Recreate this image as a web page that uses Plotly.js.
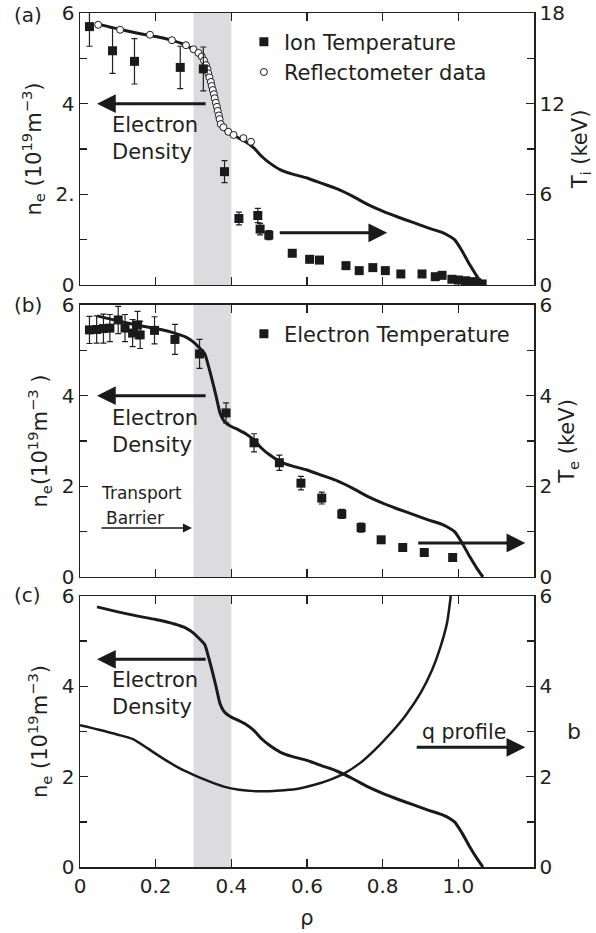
<!DOCTYPE html>
<html>
<head>
<meta charset="utf-8">
<script src="https://cdn.plot.ly/plotly-3.0.1.min.js"></script>
<style>
  html, body { margin: 0; padding: 0; background: #fff; }
  #chart { width: 596px; height: 933px; }
</style>
</head>
<body>
<div id="chart"></div>
<script>
// Electron density profile (shared by all three panels), 10^19 m^-3
const rhoDensity = [0.045, 0.10, 0.15, 0.20, 0.25, 0.28, 0.30, 0.315, 0.33, 0.34, 0.35, 0.36, 0.37, 0.38, 0.39, 0.40, 0.42, 0.44, 0.46, 0.48, 0.50, 0.53, 0.56, 0.60, 0.64, 0.68, 0.72, 0.76, 0.80, 0.84, 0.88, 0.92, 0.96, 0.99, 1.01, 1.03, 1.05, 1.065];
const neDensity  = [5.76, 5.65, 5.56, 5.48, 5.38, 5.29, 5.18, 5.06, 4.92, 4.64, 4.32, 3.98, 3.62, 3.45, 3.37, 3.32, 3.24, 3.15, 3.02, 2.84, 2.70, 2.54, 2.45, 2.36, 2.24, 2.12, 1.96, 1.78, 1.63, 1.50, 1.38, 1.26, 1.15, 1.00, 0.75, 0.45, 0.18, 0.0];

// Reflectometer density measurements
const rhoRefl = [0.048, 0.106, 0.185, 0.243, 0.280, 0.300, 0.313, 0.322, 0.328, 0.333, 0.337, 0.339, 0.342, 0.346, 0.348, 0.351, 0.354, 0.356, 0.359, 0.362, 0.364, 0.367, 0.369, 0.372, 0.379, 0.392, 0.406, 0.432, 0.452];
const neRefl  = [5.74, 5.63, 5.52, 5.40, 5.29, 5.20, 5.12, 5.04, 4.95, 4.85, 4.76, 4.67, 4.58, 4.48, 4.39, 4.30, 4.21, 4.12, 4.02, 3.93, 3.84, 3.74, 3.66, 3.55, 3.48, 3.38, 3.31, 3.24, 3.16];

// Ion temperature, keV
const rhoTi = [0.025, 0.086, 0.144, 0.265, 0.326, 0.382, 0.420, 0.470, 0.476, 0.499, 0.561, 0.607, 0.633, 0.703, 0.738, 0.774, 0.807, 0.848, 0.904, 0.939, 0.957, 0.983, 1.000, 1.019, 1.036, 1.049, 1.063];
const tiVals = [17.1, 15.5, 14.8, 14.4, 14.3, 7.5, 4.4, 4.6, 3.7, 3.3, 2.1, 1.7, 1.65, 1.28, 0.95, 1.15, 0.95, 0.73, 0.73, 0.55, 0.64, 0.38, 0.33, 0.28, 0.22, 0.15, 0.07];
const tiErr  = [1.3, 1.5, 1.5, 1.4, 1.45, 0.73, 0.42, 0.47, 0.38, 0.3, 0, 0, 0, 0, 0, 0, 0, 0, 0, 0, 0, 0, 0, 0, 0, 0, 0];

// Electron temperature, keV
const rhoTe = [0.025, 0.044, 0.062, 0.079, 0.101, 0.119, 0.139, 0.152, 0.159, 0.197, 0.251, 0.316, 0.386, 0.460, 0.527, 0.584, 0.639, 0.692, 0.743, 0.796, 0.853, 0.910, 0.985];
const teVals = [5.45, 5.46, 5.48, 5.49, 5.67, 5.49, 5.38, 5.56, 5.34, 5.44, 5.24, 4.92, 3.62, 2.96, 2.52, 2.07, 1.74, 1.39, 1.09, 0.82, 0.65, 0.54, 0.43];
const teErr  = [0.3, 0.3, 0.32, 0.3, 0.3, 0.3, 0.3, 0.3, 0.3, 0.3, 0.33, 0.32, 0.22, 0.2, 0.17, 0.15, 0.13, 0.1, 0.1, 0, 0, 0, 0];

// Safety factor q profile
const rhoQ = [0.0, 0.05, 0.10, 0.14, 0.18, 0.22, 0.26, 0.30, 0.34, 0.38, 0.42, 0.46, 0.50, 0.54, 0.58, 0.62, 0.66, 0.70, 0.74, 0.78, 0.82, 0.86, 0.90, 0.93, 0.95, 0.97, 0.98];
const qVals = [3.14, 3.04, 2.93, 2.83, 2.62, 2.40, 2.20, 2.04, 1.90, 1.78, 1.71, 1.68, 1.68, 1.70, 1.74, 1.82, 1.93, 2.08, 2.30, 2.60, 2.95, 3.35, 3.85, 4.35, 4.80, 5.40, 6.0];

// Tick labels
const rhoTicks = [0, 0.2, 0.4, 0.6, 0.8, 1.0];
const rhoTickText = ['0', '0.2', '0.4', '0.6', '0.8', '1.0'];
const neTicks = [0, 2, 4, 6];
const neTickTextA = ['0', '2.', '4', '6'];
const neTickText = ['0', '2', '4', '6'];
const tiTicks = [0, 6, 12, 18];
const tiTickText = ['0', '6', '12', '18'];

// Transport barrier region
const barrier = [0.3, 0.4];

const FONT = 'DejaVu Sans, Verdana, sans-serif';
const INK = '#231f20';
const LINE = '#1a1a1a';

function xAxis(anchor, labels, title) {
  const ax = {
    domain: [0, 1], range: [0, 1.2], anchor: anchor,
    tickvals: rhoTicks, ticktext: rhoTickText, showticklabels: labels,
    ticks: 'inside', ticklen: 8, tickwidth: 1.5, tickcolor: INK,
    showline: true, linewidth: 1.5, linecolor: INK, mirror: 'ticks',
    showgrid: false, zeroline: false,
    tickfont: { family: FONT, size: 20, color: INK }
  };
  if (title) ax.title = { text: title, font: { family: FONT, size: 21, color: INK }, standoff: 14 };
  return ax;
}

function yAxis(domain, anchor, range, ticks, text, minorVals, side, title, overlay) {
  const ax = {
    domain: domain, range: range, anchor: anchor, side: side,
    tickvals: ticks, ticktext: text,
    ticks: 'inside', ticklen: 8, tickwidth: 1.5, tickcolor: INK,
    minor: { tickvals: minorVals, ticks: 'inside', ticklen: 7, tickwidth: 1.5, tickcolor: INK },
    showline: true, linewidth: 1.5, linecolor: INK,
    showgrid: false, zeroline: false, fixedrange: true,
    tickfont: { family: FONT, size: 20, color: INK },
    title: { text: title, font: { family: FONT, size: 21, color: INK }, standoff: 8 }
  };
  if (overlay) ax.overlaying = overlay;
  return ax;
}

const densLine = { color: LINE, width: 3, shape: 'spline', smoothing: 0.5 };
const errStyle = (arr) => ({ type: 'data', array: arr, visible: true, color: INK, thickness: 1.2, width: 3 });

const data = [
  // (a)
  { x: rhoDensity, y: neDensity, xaxis: 'x', yaxis: 'y', mode: 'lines', line: densLine, showlegend: false, hoverinfo: 'skip' },
  { x: rhoTi, y: tiVals, xaxis: 'x', yaxis: 'y2', mode: 'markers', name: 'Ion Temperature',
    marker: { symbol: 'square', size: 9, color: LINE }, error_y: errStyle(tiErr), legend: 'legend' },
  { x: rhoRefl, y: neRefl, xaxis: 'x', yaxis: 'y', mode: 'markers', name: 'Reflectometer data',
    marker: { symbol: 'circle', size: 7, color: '#ffffff', line: { color: LINE, width: 1 } }, legend: 'legend' },
  // (b)
  { x: rhoDensity, y: neDensity, xaxis: 'x2', yaxis: 'y3', mode: 'lines', line: densLine, showlegend: false, hoverinfo: 'skip' },
  { x: rhoTe, y: teVals, xaxis: 'x2', yaxis: 'y4', mode: 'markers', name: 'Electron Temperature',
    marker: { symbol: 'square', size: 9, color: LINE }, error_y: errStyle(teErr), legend: 'legend2' },
  // (c)
  { x: rhoDensity, y: neDensity, xaxis: 'x3', yaxis: 'y5', mode: 'lines', line: densLine, showlegend: false, hoverinfo: 'skip' },
  { x: rhoQ, y: qVals, xaxis: 'x3', yaxis: 'y6', mode: 'lines', line: { color: LINE, width: 2.5, shape: 'spline', smoothing: 0.6 }, showlegend: false, hoverinfo: 'skip' }
];

const dA = [0.6815, 1.0], dB = [0.3396, 0.6581], dC = [0.0, 0.3173];
const neTitleA = 'n<sub>e</sub> (10<sup>19</sup>m<sup>\u22123</sup>)';
const neTitleB = 'n<sub>e</sub>(10<sup>19</sup>m<sup>\u22123</sup> )';

function band(xr, yr) {
  return { type: 'rect', xref: xr, yref: yr + ' domain', x0: barrier[0], x1: barrier[1], y0: 0, y1: 1,
           fillcolor: '#dcdcde', line: { width: 0 }, layer: 'below' };
}

function arrow(xr, yr, xTip, yTip, xTail, yTail, w, size) {
  return { xref: xr, yref: yr, axref: xr, ayref: yr, x: xTip, y: yTip, ax: xTail, ay: yTail,
           text: '', showarrow: true, arrowhead: 2, arrowsize: size, arrowwidth: w, arrowcolor: LINE, standoff: 0 };
}

function label(xr, yr, x, y, text, size, xanchor, align) {
  return { xref: xr, yref: yr, x: x, y: y, text: text, showarrow: false, xanchor: xanchor || 'left',
           yanchor: 'middle', align: align || 'left', font: { family: FONT, size: size, color: INK } };
}

function panelTag(y, text) {
  return { xref: 'paper', yref: 'paper', x: -0.15, y: y, text: text, showarrow: false,
           xanchor: 'left', yanchor: 'middle', font: { family: FONT, size: 20, color: INK } };
}

const annotations = [
  panelTag(0.998, '(a)'), panelTag(0.658, '(b)'), panelTag(0.3185, '(c)'),
  // (a)
  arrow('x', 'y', 0.045, 4.0, 0.336, 4.0, 3, 1.25),
  label('x', 'y', 0.079, 3.24, 'Electron<br>Density', 21),
  arrow('x', 'y', 0.812, 1.15, 0.524, 1.15, 3, 1.25),
  // (b)
  arrow('x2', 'y3', 0.045, 4.0, 0.336, 4.0, 3, 1.25),
  label('x2', 'y3', 0.079, 3.22, 'Electron<br>Density', 21),
  label('x2', 'y3', 0.163, 1.85, 'Transport', 17, 'center', 'center'),
  label('x2', 'y3', 0.146, 1.30, 'Barrier', 17, 'center', 'center'),
  arrow('x2', 'y3', 0.296, 1.08, 0.053, 1.08, 1.5, 1.2),
  arrow('x2', 'y3', 1.177, 0.75, 0.89, 0.75, 3, 1.25),
  // (c)
  arrow('x3', 'y5', 0.045, 4.6, 0.336, 4.6, 3, 1.25),
  label('x3', 'y5', 0.079, 3.84, 'Electron<br>Density', 21),
  label('x3', 'y5', 1.016, 3.0, 'q profile', 20.5, 'center', 'center'),
  arrow('x3', 'y5', 1.177, 2.65, 0.886, 2.65, 3, 1.25),
  // right-hand q axis title
  { xref: 'paper', yref: 'paper', x: 1.088, y: 0.155, text: 'q', textangle: 180, showarrow: false,
    xanchor: 'center', yanchor: 'middle', font: { family: FONT, size: 22, color: INK } }
];

const layout = {
  width: 596, height: 933,
  margin: { l: 80, r: 62, t: 13, b: 66 },
  paper_bgcolor: '#ffffff', plot_bgcolor: 'rgba(0,0,0,0)',
  font: { family: FONT, color: INK },
  xaxis: xAxis('y', false),
  xaxis2: xAxis('y3', false),
  xaxis3: xAxis('y5', true, '\u03c1'),
  yaxis: yAxis(dA, 'x', [0, 6], neTicks, neTickTextA, [1, 3, 5], 'left', neTitleA),
  yaxis2: yAxis(dA, 'x', [0, 18], tiTicks, tiTickText, [3, 9, 15], 'right', 'T<sub>i</sub> (keV)', 'y'),
  yaxis3: yAxis(dB, 'x2', [0, 6], neTicks, neTickText, [1, 3, 5], 'left', neTitleB),
  yaxis4: yAxis(dB, 'x2', [0, 6], neTicks, neTickText, [1, 3, 5], 'right', 'T<sub>e</sub> (keV)', 'y3'),
  yaxis5: yAxis(dC, 'x3', [0, 6], neTicks, neTickText, [1, 3, 5], 'left', neTitleA),
  yaxis6: yAxis(dC, 'x3', [0, 6], neTicks, neTickText, [1, 3, 5], 'right', '', 'y5'),
  shapes: [band('x', 'y'), band('x2', 'y3'), band('x3', 'y5')],
  annotations: annotations,
  showlegend: true,
  legend: { x: 0.361, y: 0.99, xanchor: 'left', yanchor: 'top', bgcolor: 'rgba(0,0,0,0)',
            font: { family: FONT, size: 21, color: INK }, itemclick: false, tracegroupgap: 0 },
  legend2: { x: 0.361, y: 0.648, xanchor: 'left', yanchor: 'top', bgcolor: 'rgba(0,0,0,0)',
             font: { family: FONT, size: 21, color: INK }, itemclick: false }
};

Plotly.newPlot('chart', data, layout, { displayModeBar: false, staticPlot: true });
</script>
</body>
</html>
